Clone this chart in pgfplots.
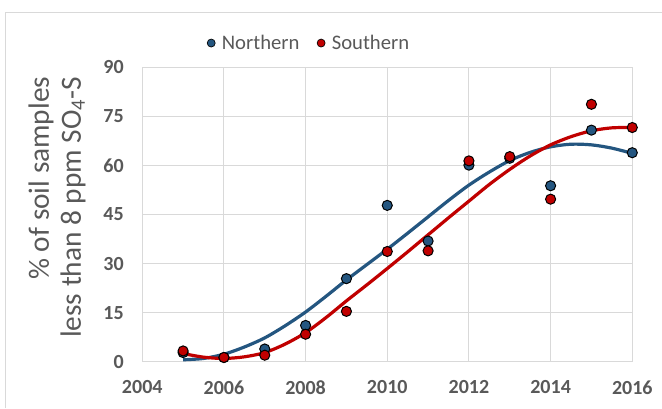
\documentclass[border=0pt]{standalone}
\usepackage{pgfplots}
\pgfplotsset{compat=1.18}
\usepackage{fontspec}
\setmainfont{Carlito}
\definecolor{nblue}{HTML}{245680}
\definecolor{sred}{HTML}{C00000}
\definecolor{gridgrey}{HTML}{D9D9D9}
\definecolor{txtgrey}{HTML}{595959}
\begin{document}
\begin{tikzpicture}
\useasboundingbox (0,0) rectangle (496.5pt,306pt);
\draw[gridgrey, line width=0.75pt] (3.75pt,0pt) -- (3.75pt,296.25pt) -- (496.5pt,296.25pt);
\begin{axis}[
  at={(106.7pt,34.7pt)}, anchor=south west,
  scale only axis, width=367.5pt, height=220.8pt,
  xmin=2004, xmax=2016, ymin=0, ymax=90,
  xtick={2004,2006,...,2016}, ytick={0,15,...,90},
  /pgf/number format/.cd, 1000 sep={}, assume math mode=true, /pgfplots/.cd,
  grid=major, major grid style={gridgrey, line width=0.75pt},
  axis line style={gridgrey, line width=0.75pt},
  major tick length=0pt,
  tick label style={font=\bfseries\fontsize{15}{18}\selectfont, text=txtgrey},
  yticklabel style={xshift=-10.4pt},
  xticklabel style={yshift=-10.7pt},
  ylabel={\% of soil samples\\less than 8 ppm SO\textsubscript{4}-S},
  ylabel style={at={(axis description cs:-0.174,0.984)}, anchor=east, align=right,
    font=\fontsize{22}{24}\selectfont, text=txtgrey},
  legend style={at={(axis description cs:0.341,1.0825)}, anchor=center, draw=none, fill=none,
    font=\fontsize{15.5}{18}\selectfont, text=txtgrey,
    /tikz/every even column/.append style={column sep=11pt}},
  legend columns=2,
]
\addplot[only marks, mark=*, mark size=3.8pt, mark options={draw=black, line width=0.75pt, fill=nblue},
  legend image code/.code={\path[draw=none, fill=none] (-3pt,0pt) rectangle (6pt,0.1pt); \draw[black, line width=0.5pt, fill=nblue] (0pt,0pt) circle (3pt);}]
  coordinates {(2005,2.8) (2006,1.3) (2007,3.9) (2008,11.1) (2009,25.4) (2010,47.8) (2011,36.9) (2012,60.1) (2013,62.2) (2014,53.8) (2015,70.8) (2016,63.9)};
\addlegendentry{Northern}
\addplot[nblue, line width=2.4pt, smooth, forget plot] coordinates {
(2005,0.6) (2005.5,1.0) (2006,2.3) (2006.5,4.5) (2007,7.3) (2007.5,11.0) (2008,15.2) (2008.5,20.0)
(2009,25.0) (2009.5,29.7) (2010,34.4) (2010.5,39.3) (2011,44.3) (2011.5,49.3) (2012,54.0) (2012.5,58.0)
(2013,61.5) (2013.5,64.0) (2014,65.7) (2014.5,66.5) (2015,66.3) (2015.5,65.3) (2016,63.7)};
\addplot[only marks, mark=*, mark size=3.8pt, mark options={draw=black, line width=0.75pt, fill=sred},
  legend image code/.code={\path[draw=none, fill=none] (-3pt,0pt) rectangle (6pt,0.1pt); \draw[black, line width=0.5pt, fill=sred] (0pt,0pt) circle (3pt);}]
  coordinates {(2005,3.3) (2006,1.3) (2007,2.0) (2008,8.4) (2009,15.4) (2010,33.7) (2011,33.9) (2012,61.4) (2013,62.7) (2014,49.7) (2015,78.7) (2016,71.6)};
\addlegendentry{Southern}
\addplot[sred, line width=2.4pt, smooth, forget plot] coordinates {
(2005,2.5) (2005.5,1.4) (2006,1.0) (2006.5,1.5) (2007,2.8) (2007.5,5.4) (2008,8.9) (2008.5,13.5)
(2009,18.6) (2009.5,23.5) (2010,28.5) (2010.5,33.6) (2011,38.8) (2011.5,44.0) (2012,49.1) (2012.5,54.2)
(2013,58.8) (2013.5,62.9) (2014,66.3) (2014.5,68.8) (2015,70.6) (2015.5,71.5) (2016,71.6)};
\end{axis}
\end{tikzpicture}
\end{document}
